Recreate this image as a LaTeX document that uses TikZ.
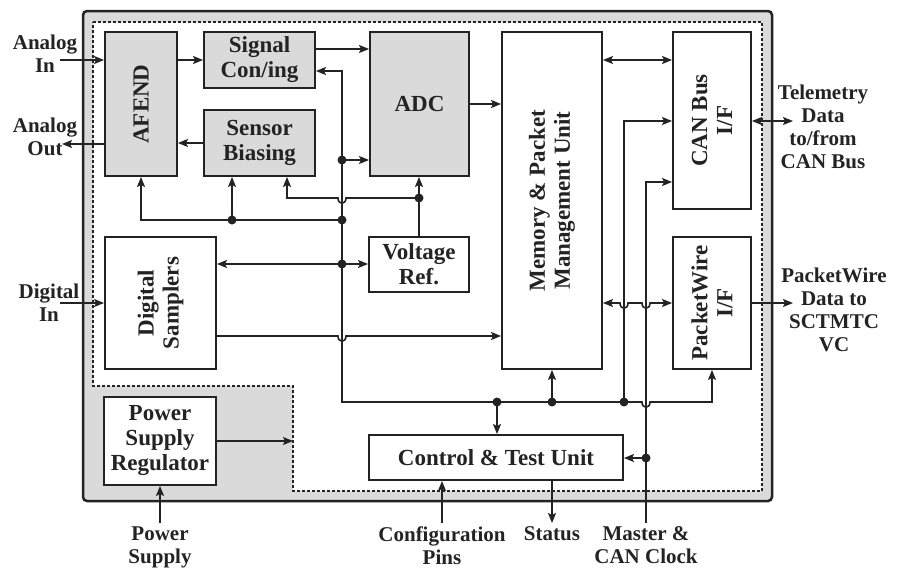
\documentclass[tikz,border=0pt]{standalone}
\usepackage{fontspec}
\setmainfont{Liberation Serif}
\usetikzlibrary{positioning, arrows.meta}

\definecolor{boxgray}{RGB}{218,218,218}
\definecolor{ink}{RGB}{35,35,35}

\tikzset{
    blk/.style = {draw = ink, line width = 1.9pt, fill = white, inner sep = 0pt,
        align = center, text = ink, font = \bfseries\fontsize{23}{25}\selectfont},
    gblk/.style = {blk, fill = boxgray},
    txt/.style = {inner sep = 0pt, align = center, text = ink,
        font = \bfseries\fontsize{23}{25}\selectfont},
    lbl/.style = {inner sep = 0pt, outer sep = 4pt, align = center, text = ink,
        font = \bfseries\fontsize{21}{23}\selectfont},
    wire/.style = {draw = ink, line width = 1.6pt},
    >={Stealth[length = 10pt, width = 8pt, inset = 2pt]}
}

\begin{document}
\begin{tikzpicture}[x = 1pt, y = -1pt]
    \useasboundingbox (0, 0) rectangle (902, 570);

    % housing and dashed area
    \draw [fill = boxgray, draw = ink, line width = 2.5pt, rounded corners = 4pt]
        (83, 11) rectangle (772, 501);
    \draw [fill = white, draw = ink, line width = 1.4pt, dash pattern = on 3pt off 2pt]
        (93, 22) -- (762, 22) -- (762, 491) -- (293, 491) -- (293, 386) -- (93, 386) -- cycle;
    \coordinate (pwin) at (293, 441);

    % blocks
    \node [gblk, minimum width = 72pt, minimum height = 144pt] (afend) at (141, 104) {};
    \node [txt, rotate = 90] (afendtxt) at (afend) {AFEND};
    \node [gblk, minimum width = 111pt, minimum height = 56pt] (sigcon) at (259.5, 60) {Signal\\Con/ing};
    \node [gblk, minimum width = 111pt, minimum height = 66pt] (senbias) at (259.5, 143) {Sensor\\Biasing};
    \node [gblk, minimum width = 99pt, minimum height = 144pt] (adc) at (419.5, 104) {ADC};
    \node [blk, minimum width = 100pt, minimum height = 337pt] (mem) at (552, 200.5) {};
    \node [txt, rotate = 90] (memtxt) at (mem) {Memory \& Packet\\Management Unit};
    \node [blk, minimum width = 78pt, minimum height = 177pt] (canbus) at (712, 120.5) {};
    \node [txt, rotate = 90] (cantxt) at (canbus) {CAN Bus\\I/F};
    \node [blk, minimum width = 78pt, minimum height = 132pt] (pktwire) at (712, 303) {};
    \node [txt, rotate = 90] (pkttxt) at (pktwire) {PacketWire\\I/F};
    \node [blk, minimum width = 111pt, minimum height = 132pt] (digsamp) at (160.5, 303) {};
    \node [txt, rotate = 90] (digtxt) at (digsamp) {Digital\\Samplers};
    \node [blk, minimum width = 100pt, minimum height = 55pt] (vref) at (419, 264.5) {Voltage\\Ref.};
    \node [blk, minimum width = 112pt, minimum height = 88pt] (psreg) at (160, 441) {Power\\Supply\\Regulator};
    \node [blk, minimum width = 254pt, minimum height = 45pt] (ctrl) at (496, 457.5) {Control \& Test Unit};

    % outside labels
    \node [lbl] (ain) at (45, 54) {Analog\\In};
    \node [lbl] (aout) at (45, 137) {Analog\\Out};
    \node [lbl] (din) at (49, 303) {Digital\\In};
    \node [lbl] (telem) at (823, 127) {Telemetry\\Data\\to/from\\CAN Bus};
    \node [lbl] (pwout) at (834, 310) {PacketWire\\Data to\\SCTMTC\\VC};
    \node [lbl, anchor = north] (psup) at (160, 523) {Power\\Supply};
    \node [lbl, anchor = north] (cfg) at (442, 523) {Configuration\\Pins};
    \node [lbl, anchor = north] (status) at (552, 523) {Status};
    \node [lbl, anchor = north] (mclk) at (646, 523) {Master \&\\CAN Clock};
    \coordinate (ainx) at (60, 60);
    \coordinate (aoutx) at (62, 144);
    \coordinate (dinx) at (60, 303);
    \coordinate (telx) at (793, 121);
    \coordinate (pwx) at (793, 303);

    % junctions
    \coordinate (busn) at (342, 71);
    \coordinate (j1) at (342, 160);
    \coordinate (j2) at (342, 220);
    \coordinate (j3) at (232, 220);
    \coordinate (j4) at (419, 198);
    \coordinate (j5) at (342, 264);
    \coordinate (buss) at (342, 402);
    \coordinate (j6) at (497, 402);
    \coordinate (j7) at (552, 402);
    \coordinate (j8) at (624, 402);
    \coordinate (j9) at (646, 458);

    % analog side
    \draw [wire, ->] (ainx) -- (afend.west |- ainx);
    \draw [wire, ->] (afend.west |- aoutx) -- (aoutx);
    \draw [wire, ->] (afend.east |- sigcon.west) -- (sigcon.west);
    \draw [wire, ->] (senbias.west) -- (afend.east |- senbias.west);
    \draw [wire, ->] (sigcon.east |- 0, 49) -- (adc.west |- 0, 49);
    \draw [wire, ->] (adc.east) -- (mem.west |- adc.east);

    % reference / bias bus
    \draw [wire, <->] (sigcon.east |- busn) -- (busn) -- (buss) -- (642, 402)
        .. controls (642, 409) and (650, 409) .. (650, 402) -| (pktwire.south);
    \draw [wire, ->] (j1) -- (adc.west |- j1);
    \draw [wire, ->] (j2) -| (afend.south);
    \draw [wire, ->] (j3) -- (j3 |- senbias.south);
    \draw [wire, ->] (j4) -- (346, 198) .. controls (346, 205) and (338, 205) .. (338, 198)
        -| (senbias.south -| 287, 0);
    \draw [wire, ->] (vref.north) -- (vref.north |- adc.south);
    \draw [wire, <->] (digsamp.east |- j5) -- (vref.west |- j5);

    % digital side
    \draw [wire, ->] (dinx) -- (digsamp.west |- dinx);
    \draw [wire, ->] (digsamp.east |- 0, 336) -- (338, 336)
        .. controls (338, 343) and (346, 343) .. (346, 336) -- (mem.west |- 0, 336);
    \draw [wire, <->] (mem.east |- 0, 60) -- (canbus.west |- 0, 60);
    \draw [wire, <->] (mem.east |- 0, 303) -- (620, 303)
        .. controls (620, 310) and (628, 310) .. (628, 303) -- (642, 303)
        .. controls (642, 310) and (650, 310) .. (650, 303) -- (pktwire.west |- 0, 303);
    \draw [wire, ->] (j8) |- (canbus.west |- 0, 121);
    \draw [wire, ->] (mclk.north) -- (646, 182) -- (canbus.west |- 0, 182);
    \draw [wire, ->] (j9) -- (ctrl.east |- j9);
    \draw [wire, ->] (j6) -- (j6 |- ctrl.north);
    \draw [wire, ->] (j7) -- (j7 |- mem.south);
    \draw [wire, <->] (canbus.east |- telx) -- (telx);
    \draw [wire, ->] (pktwire.east |- pwx) -- (pwx);

    % power and pins
    \draw [wire, ->] (psreg.east) -- (pwin);
    \draw [wire, ->] (psup.north) -- (psreg.south);
    \draw [wire, ->] (cfg.north) -- (cfg.north |- ctrl.south);
    \draw [wire, ->] (status.north |- ctrl.south) -- (status.north);

    \foreach \j in {j1, j2, j3, j4, j5, j6, j7, j8, j9}
        \fill [ink] (\j) circle [radius = 4.5pt];
\end{tikzpicture}
\end{document}
